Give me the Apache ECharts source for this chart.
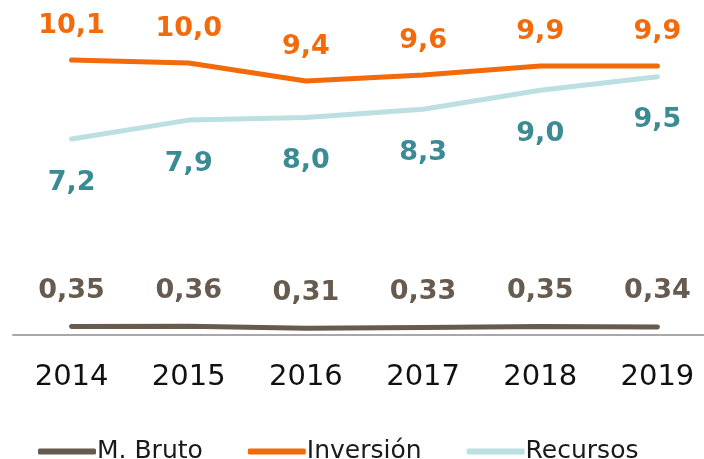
<!DOCTYPE html>
<html lang="es">
<head>
    <meta charset="UTF-8">
    <title>Inversión, Recursos y M. Bruto</title>
    <style>
        html, body { margin: 0; padding: 0; background: #fff; }
    </style>
</head>
<body>
    <div id="chart" style="width: 704px;height:459px;"></div>
    <script src="https://cdn.jsdelivr.net/npm/echarts@6/dist/echarts.min.js"></script>
    <script type="text/javascript">
        // datos
        var years = ['2014', '2015', '2016', '2017', '2018', '2019'];
        var mBruto = [0.35, 0.36, 0.31, 0.33, 0.35, 0.34];
        var inversion = [10.1, 10.0, 9.4, 9.6, 9.9, 9.9];
        var recursos = [7.2, 7.9, 8.0, 8.3, 9.0, 9.5];

        var font = 'DejaVu Sans';

        function fmt(decimals) {
            return function (p) {
                return p.value.toFixed(decimals).replace('.', ',');
            };
        }

        var myChart = echarts.init(document.getElementById('chart'));
        var option = {
            animation: false,
            grid: { left: 13, width: 703, top: 0, bottom: 122, outerBoundsMode: 'none', containLabel: false },
            legend: {
                left: 33,
                top: 434,
                itemWidth: 58,
                itemHeight: 6,
                itemGap: 45,
                icon: 'roundRect',
                textStyle: { fontFamily: font, fontSize: 25, color: '#1a1a1a', padding: [0, 0, 0, -4] },
                data: [
                    'M. Bruto',
                    { name: 'Inversión', textStyle: { padding: [0, 8, 0, -4] } },
                    'Recursos'
                ]
            },
            xAxis: {
                type: 'category',
                data: years,
                boundaryGap: true,
                axisLine: { lineStyle: { color: '#a8a8a8', width: 2 } },
                axisTick: { show: false },
                axisLabel: { margin: 26, fontFamily: font, fontSize: 29, color: '#111' }
            },
            yAxis: [
                { type: 'value', show: false, min: 0.09, max: 8.5 },
                { type: 'value', show: false, min: 0.867, max: 12.1 },
                { type: 'value', show: false, min: -0.1, max: 12.33 }
            ],
            series: [
                {
                    name: 'M. Bruto',
                    type: 'line',
                    yAxisIndex: 0,
                    data: mBruto,
                    color: '#675a4e',
                    symbol: 'circle',
                    symbolSize: 0,
                    lineStyle: { width: 5, cap: 'round' },
                    label: {
                        show: true, position: 'top', distance: 22,
                        formatter: fmt(2),
                        fontFamily: font, fontSize: 27, fontWeight: 'bold', color: '#675a4e'
                    }
                },
                {
                    name: 'Inversión',
                    type: 'line',
                    yAxisIndex: 1,
                    data: inversion,
                    color: '#f26a0a',
                    symbol: 'circle',
                    symbolSize: 0,
                    lineStyle: { width: 5, cap: 'round' },
                    label: {
                        show: true, position: 'top', distance: 21,
                        formatter: fmt(1),
                        fontFamily: font, fontSize: 27, fontWeight: 'bold', color: '#f26a0a'
                    }
                },
                {
                    name: 'Recursos',
                    type: 'line',
                    yAxisIndex: 2,
                    data: recursos,
                    color: '#bcdfe2',
                    symbol: 'circle',
                    symbolSize: 0,
                    lineStyle: { width: 5, cap: 'round' },
                    label: {
                        show: true, position: 'bottom', distance: 30,
                        formatter: fmt(1),
                        fontFamily: font, fontSize: 27, fontWeight: 'bold', color: '#3a8b93'
                    }
                }
            ]
        };
        myChart.setOption(option);
    </script>
</body>
</html>
